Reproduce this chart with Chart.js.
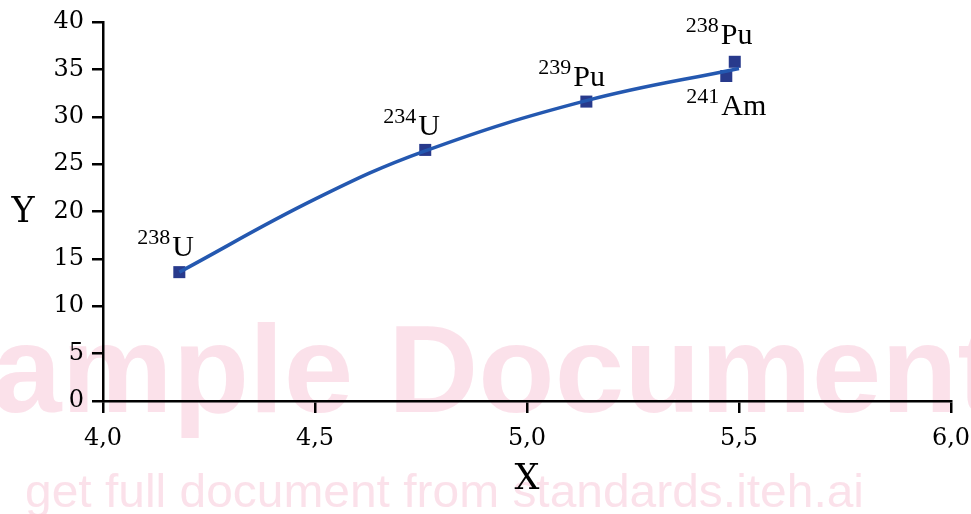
<!DOCTYPE html>
<html>
<head>
<meta charset="utf-8">
<script src="https://cdn.jsdelivr.net/npm/chart.js@4/dist/chart.umd.min.js"></script>
<style>
  html, body { margin: 0; padding: 0; background: #fff; }
  #wrap { width: 971px; height: 514px; position: relative; }
</style>
</head>
<body>
<div id="wrap"><canvas id="chart" width="971" height="514"></canvas></div>
<script>
// nuclides
var massNumbers = ['238', '234', '239', '241', '238'];
var elements = ['U', 'U', 'Pu', 'Am', 'Pu'];
var xValues = [4.18, 4.76, 5.14, 5.47, 5.49];
var yValues = [13.6, 26.5, 31.6, 34.3, 35.8];

// fitted curve
var fitX = [4.18, 4.5, 4.76, 5.14, 5.5];
var fitY = [13.6, 21.3, 26.4, 31.7, 35.1];

var xTickLabels = ['4,0', '4,5', '5,0', '5,5', '6,0'];
var yTickLabels = ['0', '5', '10', '15', '20', '25', '30', '35', '40'];

// label placement: [left of element text, baseline] relative to the marker
var labelOffsets = [[-7, -16], [-7, -15], [-13, -16], [-5, 39], [-14, -18]];

var pts = xValues.map(function(x, i) { return {x: x, y: yValues[i]}; });
var fit = fitX.map(function(x, i) { return {x: x, y: fitY[i]}; });

var watermark = {
    id: 'watermark',
    beforeDraw: function(chart) {
        var ctx = chart.ctx;
        ctx.save();
        ctx.fillStyle = 'rgba(244, 170, 196, 0.35)';
        ctx.font = 'bold 125px "Liberation Sans", Arial, sans-serif';
        ctx.textBaseline = 'alphabetic';
        var w = ctx.measureText('Sample ').width;
        ctx.fillText('Sample Document', 388 - w, 412);
        ctx.font = '47px "Liberation Sans", Arial, sans-serif';
        var s = 'get full document from standards.iteh.ai';
        var sw = ctx.measureText(s).width;
        ctx.translate(25, 507);
        ctx.scale(839 / sw, 1);
        ctx.fillText(s, 0, 0);
        ctx.restore();
    }
};

var nuclideLabels = {
    id: 'nuclideLabels',
    afterDatasetsDraw: function(chart) {
        var ctx = chart.ctx;
        var meta = chart.getDatasetMeta(1);
        ctx.save();
        ctx.fillStyle = '#000';
        ctx.textBaseline = 'alphabetic';
        meta.data.forEach(function(el, i) {
            var lx = el.x + labelOffsets[i][0];
            var ly = el.y + labelOffsets[i][1];
            ctx.font = '30px "Liberation Serif", "DejaVu Serif", serif';
            ctx.textAlign = 'left';
            ctx.fillText(elements[i], lx, ly);
            ctx.font = '22px "Liberation Serif", "DejaVu Serif", serif';
            ctx.textAlign = 'right';
            ctx.fillText(massNumbers[i], lx - 2, ly - 12);
        });
        // Y axis title, not rotated
        ctx.font = '35px "DejaVu Serif", serif';
        ctx.textAlign = 'center';
        ctx.textBaseline = 'middle';
        ctx.fillText('Y', 23, 213);
        ctx.restore();
    }
};

var ctx = document.getElementById('chart').getContext('2d');
var chart = new Chart(ctx, {
    type: 'scatter',
    data: {
        datasets: [{
            label: 'fit',
            data: fit,
            showLine: true,
            borderColor: '#2458b0',
            borderWidth: 3.5,
            pointRadius: 0,
            tension: 0.4,
            fill: false
        }, {
            label: 'nuclides',
            data: pts,
            pointStyle: 'rect',
            pointRadius: 8.5,
            backgroundColor: '#283a8c',
            borderColor: '#283a8c',
            borderWidth: 0,
            showLine: false
        }]
    },
    options: {
        responsive: false,
        animation: false,
        devicePixelRatio: 1,
        layout: { padding: { left: 0, right: 20, top: 22, bottom: 0 } },
        plugins: {
            legend: { display: false },
            tooltip: { enabled: false }
        },
        scales: {
            x: {
                type: 'linear',
                min: 4.0,
                max: 6.0,
                afterFit: function(scale) {
                    scale.height = 113;
                    scale.paddingLeft = 0;
                    scale.paddingRight = 0;
                },
                afterBuildTicks: function(scale) {
                    scale.ticks = xTickLabels.map(function(t) { return {value: parseFloat(t.replace(',', '.'))}; });
                },
                ticks: {
                    color: '#000',
                    padding: 11,
                    maxRotation: 0,
                    font: { family: '"DejaVu Serif", serif', size: 24 },
                    callback: function(v, i) { return xTickLabels[i]; }
                },
                grid: {
                    drawOnChartArea: false,
                    drawTicks: true,
                    tickLength: 12,
                    color: '#000',
                    lineWidth: 2.5
                },
                border: { color: '#000', width: 2.5 },
                title: {
                    display: true,
                    text: 'X',
                    color: '#000',
                    font: { family: '"DejaVu Serif", serif', size: 35 },
                    padding: { top: 4, bottom: 13 }
                }
            },
            y: {
                type: 'linear',
                min: 0,
                max: 40,
                afterFit: function(scale) {
                    scale.width = 103;
                    scale.paddingTop = 0;
                    scale.paddingBottom = 0;
                },
                afterBuildTicks: function(scale) {
                    scale.ticks = yTickLabels.map(function(t) { return {value: parseFloat(t)}; });
                },
                ticks: {
                    color: '#000',
                    padding: 8,
                    font: { family: '"DejaVu Serif", serif', size: 24 },
                    callback: function(v, i) { return yTickLabels[i]; }
                },
                grid: {
                    drawOnChartArea: false,
                    drawTicks: true,
                    tickLength: 11,
                    color: '#000',
                    lineWidth: 2.5
                },
                border: { color: '#000', width: 2.5 }
            }
        }
    },
    plugins: [watermark, nuclideLabels]
});
</script>
</body>
</html>
